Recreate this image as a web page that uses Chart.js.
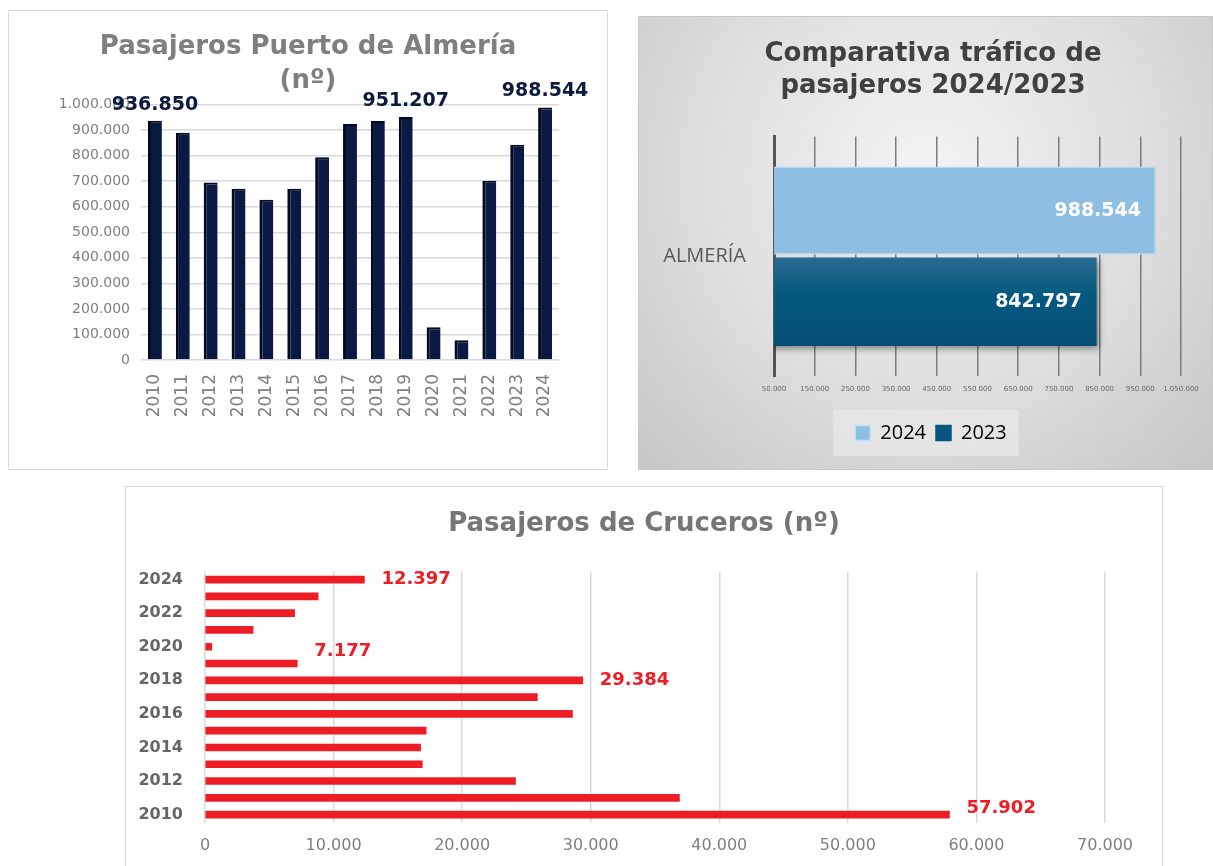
<!DOCTYPE html>
<html lang="es">
<head>
  <meta charset="UTF-8" />
  <title>Pasajeros Puerto de Almería</title>
  <script src="https://cdn.jsdelivr.net/npm/chart.js"></script>
  <style>
    body {
      margin: 0;
      width: 1213px;
      height: 866px;
      overflow: hidden;
      background: #ffffff;
      font-family: 'DejaVu Sans', sans-serif;
    }
    .card {
      position: absolute;
      box-sizing: border-box;
    }
    #card1 {
      left: 8px; top: 10px; width: 600px; height: 460px;
      border: 1px solid #d9d9d9;
      background: #fff;
    }
    #card2 {
      left: 638px; top: 16px; width: 575px; height: 454px;
      border: 1px solid #c8c8c8;
      background: radial-gradient(ellipse at 50% 35%, #f4f4f4 0%, #dedede 55%, #c6c6c6 100%);
    }
    #card3 {
      left: 125px; top: 486px; width: 1038px; height: 400px;
      border: 1px solid #d9d9d9;
      background: #fff;
    }
    canvas { display: block; }
  </style>
</head>
<body>
  <div class="card" id="card1"><canvas id="portChart" width="598" height="458"></canvas></div>
  <div class="card" id="card2"><canvas id="compareChart" width="573" height="452"></canvas></div>
  <div class="card" id="card3"><canvas id="cruiseChart" width="1036" height="380"></canvas></div>

  <script>
    // --- datos ---
    const portYears = ['2010', '2011', '2012', '2013', '2014', '2015', '2016', '2017', '2018', '2019', '2020', '2021', '2022', '2023', '2024'];
    const portPassengers = [936850, 890000, 695000, 670000, 627000, 670000, 794000, 924000, 936000, 951207, 128000, 77000, 702000, 842797, 988544];
    const portLabelled = ['2010', '2019', '2024'];

    const compareCategory = ['ALMERÍA'];
    const compareSeries = ['2024', '2023'];
    const compare2024 = [988544];
    const compare2023 = [842797];

    const cruiseYears = ['2024', '2023', '2022', '2021', '2020', '2019', '2018', '2017', '2016', '2015', '2014', '2013', '2012', '2011', '2010'];
    const cruisePassengers = [12397, 8800, 6970, 3740, 530, 7177, 29384, 25850, 28580, 17200, 16770, 16900, 24150, 36900, 57902];
    const cruiseLabelled = ['2024', '2019', '2018', '2010'];

    Chart.defaults.font.family = "'DejaVu Sans', sans-serif";
    Chart.defaults.animation = false;

    function fmt(v) {
      return String(v).replace(/\B(?=(\d{3})+(?!\d))/g, '.');
    }

    // centra título (y leyenda) sobre la tarjeta, no sobre el área con padding
    function recenter(titleRight, legendRight) {
      return {
        id: 'recenter',
        afterLayout(chart) {
          if (chart.titleBlock) { chart.titleBlock.left = 0; chart.titleBlock.right = titleRight; }
          if (legendRight && chart.legend) { chart.legend.left = 0; chart.legend.right = legendRight; }
        }
      };
    }

    // chart 1: pasajeros puerto
    new Chart(document.getElementById('portChart'), {
      type: 'bar',
      data: {
        labels: portYears,
        datasets: [{
          data: portPassengers,
          backgroundColor: '#0b1a45',
          borderColor: '#030a1e',
          borderWidth: { left: 3, top: 2, right: 0, bottom: 0 },
          borderSkipped: false,
          barPercentage: 0.5,
          categoryPercentage: 1
        }]
      },
      options: {
        responsive: false,
        layout: { padding: { left: 0, right: 48, bottom: 0 } },
        plugins: {
          legend: { display: false },
          tooltip: { enabled: false },
          title: {
            display: true,
            text: ['Pasajeros Puerto de Almería', '(nº)'],
            color: '#7f7f7f',
            font: { size: 26, weight: 'bold', lineHeight: 1.28 },
            padding: { top: 20, bottom: 7 }
          }
        },
        scales: {
          x: {
            afterFit: (s) => { s.height = 109; },
            grid: { display: false },
            border: { display: false },
            ticks: { color: '#7f7f7f', font: { size: 17 }, minRotation: 90, maxRotation: 90, padding: 6 }
          },
          y: {
            min: 0,
            max: 1000000,
            afterFit: (s) => { s.width = 132; },
            grid: { color: '#d9d9d9', lineWidth: 1.5, drawTicks: false },
            border: { display: false },
            ticks: { stepSize: 100000, color: '#7f7f7f', font: { size: 14 }, padding: 11, callback: (v) => fmt(v) }
          }
        }
      },
      plugins: [recenter(598), {
        id: 'portLabels',
        afterDatasetsDraw(chart) {
          const ctx = chart.ctx;
          const meta = chart.getDatasetMeta(0);
          ctx.save();
          ctx.fillStyle = '#0c1a3e';
          ctx.font = "bold 19px 'DejaVu Sans'";
          ctx.textAlign = 'center';
          ctx.textBaseline = 'middle';
          portYears.forEach((y, i) => {
            if (!portLabelled.includes(y)) return;
            const bar = meta.data[i];
            ctx.fillText(fmt(portPassengers[i]), bar.x, bar.y - 16);
          });
          ctx.restore();
        }
      }]
    });

    // chart 2: comparativa 2024/2023
    new Chart(document.getElementById('compareChart'), {
      type: 'bar',
      data: {
        labels: compareCategory,
        datasets: [{
          label: compareSeries[0],
          data: compare2024,
          backgroundColor: '#8ebfe2',
          borderColor: '#b8d8f0',
          borderWidth: 1.5,
          barPercentage: 0.97,
          categoryPercentage: 0.76
        }, {
          label: compareSeries[1],
          data: compare2023,
          backgroundColor: (c) => {
            const area = c.chart.chartArea;
            if (!area) return '#05577f';
            const mid = (area.top + area.bottom) / 2;
            const g = c.chart.ctx.createLinearGradient(0, mid, 0, area.bottom - 25);
            g.addColorStop(0, '#2b6b90');
            g.addColorStop(0.4, '#05597f');
            g.addColorStop(1, '#064d76');
            return g;
          },
          borderColor: '#064d76',
          borderWidth: 0,
          barPercentage: 0.97,
          categoryPercentage: 0.76
        }]
      },
      options: {
        indexAxis: 'y',
        responsive: false,
        layout: { padding: { left: 0, right: 31, bottom: 16 } },
        plugins: {
          tooltip: { enabled: false },
          title: {
            display: true,
            text: ['Comparativa tráfico de', 'pasajeros 2024/2023'],
            color: '#404040',
            font: { size: 26, weight: 'bold', lineHeight: 1.2 },
            padding: { top: 22, bottom: 35 }
          },
          legend: {
            position: 'bottom',
            labels: {
              color: '#595959',
              font: { family: "'Open Sans', sans-serif", size: 20 },
              boxWidth: 15,
              boxHeight: 15,
              padding: 10,
              generateLabels: (chart) => chart.data.datasets.map((d, i) => ({
                text: d.label,
                fillStyle: i === 0 ? '#8ebfe2' : '#05577f',
                strokeStyle: i === 0 ? '#c4e0f4' : '#05577f',
                lineWidth: 1.5,
                datasetIndex: i
              }))
            }
          }
        },
        scales: {
          x: {
            min: 50000,
            max: 1050000,
            afterFit: (s) => { s.height = 37; },
            grid: { color: '#7c7c7c', lineWidth: 1.5, drawTicks: false },
            border: { display: false },
            ticks: {
              stepSize: 100000,
              autoSkip: false,
              minRotation: 0,
              maxRotation: 0,
              color: '#666666',
              font: { size: 7 },
              padding: 9,
              callback: (v) => fmt(v)
            }
          },
          y: {
            afterFit: (s) => { s.width = 135; },
            grid: { display: false },
            border: { display: true, color: '#555555', width: 3 },
            ticks: { color: '#595959', font: { family: "'Open Sans', sans-serif", size: 20 }, padding: 20 }
          }
        }
      },
      plugins: [recenter(588, 584), {
        id: 'compareDecor',
        beforeDraw(chart) {
          const boxes = chart.legend && chart.legend.legendHitBoxes;
          if (!boxes || !boxes.length) return;
          const ctx = chart.ctx;
          const l = Math.min(...boxes.map(b => b.left)) - 22;
          const r = Math.max(...boxes.map(b => b.left + b.width)) + 12;
          const t = boxes[0].top - 13;
          const b = boxes[0].top + boxes[0].height + 13;
          ctx.save();
          ctx.fillStyle = 'rgba(232,232,232,0.75)';
          ctx.fillRect(l, t, r - l, b - t);
          ctx.restore();
        },
        beforeDatasetDraw(chart, args) {
          if (args.index !== 1) return;
          const ctx = chart.ctx;
          ctx.save();
          ctx.shadowColor = 'rgba(0,0,0,0.45)';
          ctx.shadowBlur = 7;
          ctx.shadowOffsetX = 2;
          ctx.shadowOffsetY = 3;
        },
        afterDatasetDraw(chart, args) {
          if (args.index !== 1) return;
          chart.ctx.restore();
        },
        afterDatasetsDraw(chart) {
          const ctx = chart.ctx;
          ctx.save();
          ctx.fillStyle = '#ffffff';
          ctx.font = "bold 19px 'DejaVu Sans'";
          ctx.textAlign = 'right';
          ctx.textBaseline = 'middle';
          chart.data.datasets.forEach((d, di) => {
            chart.getDatasetMeta(di).data.forEach((bar, i) => {
              ctx.fillText(fmt(d.data[i]), bar.x - 15, bar.y);
            });
          });
          ctx.restore();
        }
      }]
    });

    // chart 3: cruceros
    new Chart(document.getElementById('cruiseChart'), {
      type: 'bar',
      data: {
        labels: cruiseYears,
        datasets: [{
          data: cruisePassengers,
          backgroundColor: '#ee1c25',
          barThickness: 7
        }]
      },
      options: {
        indexAxis: 'y',
        responsive: false,
        layout: { padding: { left: 0, right: 57, bottom: 0 } },
        plugins: {
          legend: { display: false },
          tooltip: { enabled: false },
          title: {
            display: true,
            text: 'Pasajeros de Cruceros (nº)',
            color: '#767676',
            font: { size: 26, weight: 'bold', lineHeight: 1.2 },
            padding: { top: 22, bottom: 31 }
          }
        },
        scales: {
          x: {
            min: 0,
            max: 70000,
            afterFit: (s) => { s.height = 44; },
            grid: { color: '#dadada', lineWidth: 1.5, drawTicks: false },
            border: { display: false },
            ticks: { stepSize: 10000, color: '#7f7f7f', font: { size: 16 }, padding: 13, callback: (v) => fmt(v) }
          },
          y: {
            afterFit: (s) => { s.width = 79; },
            grid: { display: false },
            border: { display: false },
            ticks: {
              autoSkip: false,
              color: '#666666',
              font: { size: 16, weight: 'bold' },
              padding: 14,
              callback: function (v, i) { return i % 2 === 0 ? this.getLabelForValue(v) : ''; }
            }
          }
        }
      },
      plugins: [recenter(1036), {
        id: 'cruiseLabels',
        afterDatasetsDraw(chart) {
          const ctx = chart.ctx;
          const meta = chart.getDatasetMeta(0);
          const lift = { '2019': -12, '2010': -6 };
          ctx.save();
          ctx.fillStyle = '#ee1c25';
          ctx.font = "bold 18px 'DejaVu Sans'";
          ctx.textAlign = 'left';
          ctx.textBaseline = 'middle';
          cruiseYears.forEach((y, i) => {
            if (!cruiseLabelled.includes(y)) return;
            const bar = meta.data[i];
            ctx.fillText(fmt(cruisePassengers[i]), bar.x + 17, bar.y + (lift[y] || 0));
          });
          ctx.restore();
        }
      }]
    });
  </script>
</body>
</html>
